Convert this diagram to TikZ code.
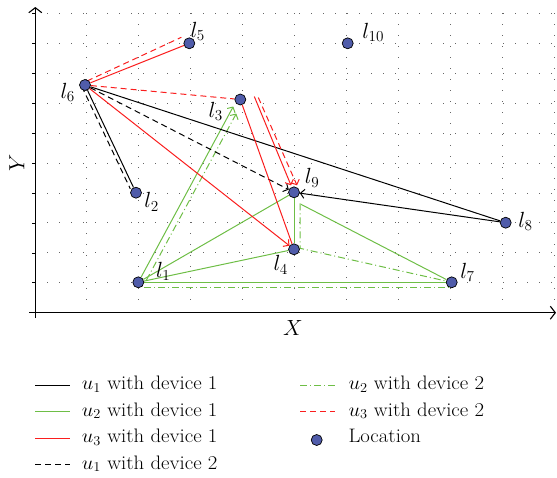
\RequirePackage{fix-cm}
\documentclass[tikz,border=0pt]{standalone}
\usepackage{graphicx}
\usetikzlibrary{arrows.meta}
\definecolor{locblue}{RGB}{80,92,170}
\definecolor{pathred}{RGB}{250,30,30}
\definecolor{pathgreen}{RGB}{110,190,70}
\pgfdeclarelayer{gridlayer}
\pgfdeclarelayer{edgelayer}
\pgfsetlayers{gridlayer,edgelayer,main}
\newcommand{\legtext}[1]{\scalebox{1.2}[1.13]{\fontsize{17.28}{20}\selectfont #1}}
\newcommand{\loclabel}[1]{\scalebox{1.27}{\fontsize{17.28}{20}\selectfont #1}}
\begin{document}
\begin{tikzpicture}[x=1pt,y=-1pt,
  txt/.style={inner sep=0pt},
  lab/.style={inner sep=0pt},
  loc/.style={circle,draw=black,line width=0.7pt,fill=locblue,inner sep=0pt,minimum size=11pt},
  rowgrid/.style={draw=black!60,line width=0.8pt,dash pattern=on 0.8pt off 11.2pt},
  colgrid/.style={draw=black!60,line width=0.8pt,dash pattern=on 0.8pt off 10.2pt},
  axisline/.style={draw=black,line width=1.1pt},
  arr/.style={-{Straight Barb[length=4pt,width=9pt]}},
  lnk/.style={line width=1pt},
  u1d1/.style={lnk,draw=black},
  u1d2/.style={lnk,draw=black,dash pattern=on 6pt off 4pt},
  u2d1/.style={lnk,draw=pathgreen},
  u2d2/.style={lnk,draw=pathgreen,dash pattern=on 7pt off 3pt on 1pt off 3pt},
  u3d1/.style={lnk,draw=pathred},
  u3d2/.style={lnk,draw=pathred,dash pattern=on 6pt off 4pt},
]
\useasboundingbox (0,0) rectangle (557,477);

% dotted grid
\begin{pgfonlayer}{gridlayer}
\foreach \k in {0,...,9} {
  \draw[rowgrid] (47,{13.3+29.94*\k}) -- (555,{13.3+29.94*\k});
  \draw[colgrid] ({86.7+52*\k},13.3) -- ({86.7+52*\k},310);
  \draw[line width=0.6pt] (32,{13.3+29.94*\k}) -- (35.3,{13.3+29.94*\k});
}
\end{pgfonlayer}

% axes
\draw[axisline,-{Straight Barb[length=5pt,width=13pt]}] (29,312.7) -- (556,312.7);
\draw[axisline,-{Straight Barb[length=5pt,width=13pt]}] (35.3,318) -- (35.3,7);
\node[lab] (xlab) at (293,328) {\loclabel{$X$}};
\node[lab,rotate=90] (ylab) at (17,163) {\loclabel{$Y$}};

% locations
\node[loc] (l1) at (138.3,282.3) {};
\node[loc] (l2) at (136,192.7) {};
\node[loc] (l3) at (240.3,99.5) {};
\node[loc] (l4) at (294,249.3) {};
\node[loc] (l5) at (189.3,43.3) {};
\node[loc] (l6) at (85,85) {};
\node[loc] (l7) at (451.7,282.3) {};
\node[loc] (l8) at (505.7,222.7) {};
\node[loc] (l9) at (294,192.3) {};
\node[loc] (l10) at (347.7,43.3) {};

\node[lab] (t1) at (163.3,271.7) {\loclabel{$l_1$}};
\node[lab] (t2) at (151.7,202) {\loclabel{$l_2$}};
\node[lab] (t3) at (215.8,111.7) {\loclabel{$l_3$}};
\node[lab] (t4) at (280.8,265) {\loclabel{$l_4$}};
\node[lab] (t5) at (197.8,31.2) {\loclabel{$l_5$}};
\node[lab] (t6) at (67.8,92.5) {\loclabel{$l_6$}};
\node[lab] (t7) at (467.5,272.5) {\loclabel{$l_7$}};
\node[lab] (t8) at (525.5,221.7) {\loclabel{$l_8$}};
\node[lab] (t9) at (312.2,177.8) {\loclabel{$l_9$}};
\node[lab] (t10) at (373.3,32.2) {\loclabel{$l_{10}$}};

\begin{pgfonlayer}{edgelayer}
% u2, device 1
\draw[u2d1,arr] (l1) -- ([shift={(-7,7)}]l3.center);
\draw[u2d1] (l1) -- (l9);
\draw[u2d1] (l1) -- (l4);
\draw[u2d1] (l1) -- (l7);
\draw[u2d1] (l9) -- (l4);
\draw[u2d1] ([shift={(7,12)}]l9.center) -- (l7);
% u2, device 2
\draw[u2d2,arr] ([shift={(8,-2)}]l1.center) -- ([shift={(-4,14)}]l3.center);
\draw[u2d2] ([shift={(6,5.5)}]l1.center) -- ([shift={(0,5.5)}]l7.center);
\draw[u2d2] ([shift={(6,11)}]l9.center) -- ([shift={(6,-1)}]l4.center) -- (l7);
% u1, device 1
\draw[u1d1] (l6) -- (l2);
\draw[u1d1] (l6) -- (l8);
\draw[u1d1,arr] (l8) -- (l9);
% u1, device 2
\draw[u1d2] ([shift={(-3.2,1.5)}]l6.center) -- ([shift={(-5.7,-3.9)}]l2.center);
\draw[u1d2,arr] (l6) -- (l9);
% u3, device 1
\draw[u3d1] (l6) -- (l5);
\draw[u3d1,arr] (l6) -- (l4);
\draw[u3d1] (l3) -- (l4);
\draw[u3d1,arr] ([shift={(14,-3)}]l3.center) -- ([shift={(-3,-7)}]l9.center);
% u3, device 2
\draw[u3d2] ([shift={(2,-4)}]l6.center) -- ([shift={(-8,-6)}]l5.center);
\draw[u3d2] (l6) -- (l3);
\draw[u3d2,arr] ([shift={(18,-2)}]l3.center) -- ([shift={(3,-7)}]l9.center);
\end{pgfonlayer}

% legend
\draw[u1d1] (35,385.5) -- (70,385.5);
\draw[u2d1] (35,411.5) -- (70,411.5);
\draw[u3d1] (35,438.5) -- (70,438.5);
\draw[u1d2] (35,464.5) -- (70,464.5);
\draw[u2d2] (300,385.5) -- (335,385.5);
\draw[u3d2] (300,411.5) -- (335,411.5);
\node[loc] (legloc) at (316.7,440) {};
\node[txt,anchor=base west] (g1) at (81.7,389.3) {\legtext{$u_1$ with device 1}};
\node[txt,anchor=base west] (g2) at (81.7,416) {\legtext{$u_2$ with device 1}};
\node[txt,anchor=base west] (g3) at (81.7,442.5) {\legtext{$u_3$ with device 1}};
\node[txt,anchor=base west] (g4) at (81.7,469) {\legtext{$u_1$ with device 2}};
\node[txt,anchor=base west] (g5) at (348.3,389.3) {\legtext{$u_2$ with device 2}};
\node[txt,anchor=base west] (g6) at (348.3,416) {\legtext{$u_3$ with device 2}};
\node[txt,anchor=base west] (g7) at (348.3,442.5) {\legtext{Location}};
\end{tikzpicture}
\end{document}
